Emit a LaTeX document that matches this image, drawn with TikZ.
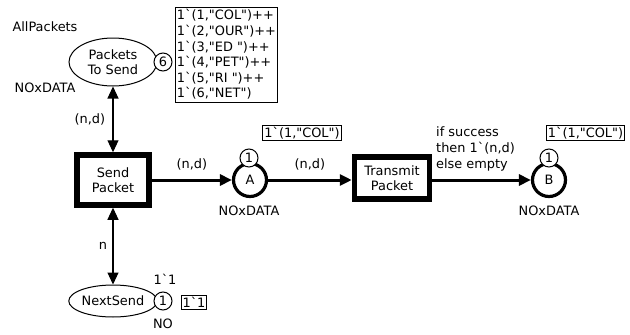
\documentclass[tikz,border=0pt]{standalone}
\usepackage{fontspec}
\newfontfamily\cpnfont{DejaVu Sans}
\usetikzlibrary{arrows.meta,shapes.geometric}

\newcommand{\bq}{\textasciigrave}

\tikzset{
  place/.style={draw, ellipse, line width=1pt, inner sep=0pt},
  busyplace/.style={draw, circle, line width=3.2pt, minimum size=33pt, inner sep=0pt},
  trans/.style={draw, rectangle, line width=5.5pt, align=center, inner sep=0pt},
  token/.style={draw, circle, fill=white, line width=1pt, minimum size=18pt, inner sep=0pt},
  marking/.style={draw, rectangle, line width=1pt, align=left, inner sep=1.5pt},
  arc/.style={line width=1.1pt, -{Triangle[length=12pt,width=11pt]}},
  fatarc/.style={line width=3pt, -{Triangle[length=12pt,width=11pt]}},
}

\begin{document}
\begin{tikzpicture}[x=1pt,y=-1pt,font={\cpnfont\fontsize{12.9}{15.6}\selectfont}]

\useasboundingbox (0,0) rectangle (630,335);

% places and transitions
\node[place, minimum width=88pt, minimum height=48pt, align=center] (P) at (113,62) {Packets\\To Send};
\node[trans, minimum width=72pt, minimum height=50pt] (S) at (113,180) {Send\\Packet};
\node[place, minimum width=88pt, minimum height=32pt] (N) at (113,301) {NextSend};
\node[busyplace] (A) at (250,180) {A};
\node[trans, minimum width=75pt, minimum height=42pt] (T) at (392,178) {Transmit\\Packet};
\node[busyplace] (B) at (549,180) {B};

% arcs
\draw[arc, {Triangle[length=12pt,width=11pt]}-{Triangle[length=12pt,width=11pt]}] (P) -- node[left=4pt] {(n,d)} (S);
\draw[arc, {Triangle[length=12pt,width=11pt]}-{Triangle[length=12pt,width=11pt]}] (S) -- node[left=2pt] {n} (N);
\draw[fatarc] (S.east |- A) -- node[above=5pt] {(n,d)} (A);
\draw[fatarc] (A) -- node[above=5pt] {(n,d)} (A -| T.west);
\draw[fatarc] (A -| T.east) -- (B);
\node[anchor=west, align=left, inner sep=0pt] (expr) at (436,149) {if success\\then 1\bq(n,d)\\else empty};

% colour sets and initial markings
\node (allp) at (45,27) {AllPackets};
\node (cP) at (45,88) {NOxDATA};
\node (cA) at (249,211) {NOxDATA};
\node (cB) at (549,211) {NOxDATA};
\node (iN) at (165,279) {1\bq1};
\node (cN) at (163,324) {NO};

% tokens
\node[token] (t6) at (163,62) {6};
\node[token] (tA) at (249,158) {1};
\node[token] (tB) at (549,158) {1};
\node[token] (tN) at (163,301) {1};

\node[marking, minimum width=97pt, minimum height=95pt] (mP) at (226.5,54.5)
  {1\bq(1,"COL")++\\1\bq(2,"OUR")++\\1\bq(3,"ED ")++\\1\bq(4,"PET")++\\1\bq(5,"RI ")++\\1\bq(6,"NET")};
\node[marking] (mA) at (302,133) {1\bq(1,"COL")};
\node[marking] (mB) at (585.5,133) {1\bq(1,"COL")};
\node[marking] (mN) at (194,302.5) {1\bq1};

\end{tikzpicture}
\end{document}
